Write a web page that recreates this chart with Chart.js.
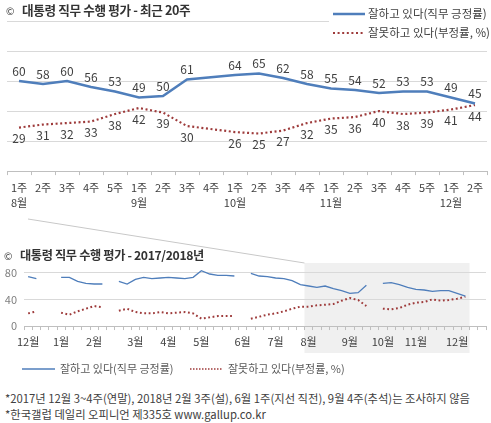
<!DOCTYPE html>
<html>
<head>
<meta charset="utf-8">
<script src="https://cdn.jsdelivr.net/npm/chart.js@4.4.1/dist/chart.umd.min.js"></script>
<style>
  body { margin: 0; background: #fff; width: 491px; height: 423px; overflow: hidden; position: relative;
         font-family: 'Noto Sans CJK KR', sans-serif; color: #404040; }
  canvas { position: absolute; left: 0; }
  #recent { top: 0; }
  #overview { top: 216px; }
  .title { position: absolute; font-weight: bold; line-height: 18px; letter-spacing: -0.35px;
           color: #333; white-space: nowrap; }
  .title span { font-weight: normal; font-size: 10px; margin-right: 8px; }
  .note { position: absolute; left: 5px; font-size: 11.3px; line-height: 16px; color: #404040; white-space: nowrap; }
</style>
</head>
<body>
<canvas id="recent" width="491" height="216"></canvas>
<canvas id="overview" width="491" height="162"></canvas>
<div class="title" style="left:6px;top:1px;font-size:12.6px"><span>©</span>대통령 직무 수행 평가 - 최근 20주</div>
<div class="title" style="left:4px;top:246px;font-size:12.2px"><span>©</span>대통령 직무 수행 평가 - 2017/2018년</div>
<div class="note" style="top:390px">*2017년 12월 3~4주(연말), 2018년 2월 3주(설), 6월 1주(지선 직전), 9월 4주(추석)는 조사하지 않음</div>
<div class="note" style="top:406px">*한국갤럽 데일리 오피니언 제335호 www.gallup.co.kr</div>
<script>
const seriesNames = ["잘하고 있다(직무 긍정률)", "잘못하고 있다(부정률, %)"];

// last 20 weeks: 2018 Aug wk1 .. Dec wk2
const recentWeeks = ["1주","2주","3주","4주","5주","1주","2주","3주","4주","1주","2주","3주","4주","1주","2주","3주","4주","5주","1주","2주"];
const recentMonths = ["8월","","","","","9월","","","","10월","","","","11월","","","","","12월",""];
const recentPositive = [60,58,60,56,53,49,50,61,null,64,65,62,58,55,54,52,53,53,49,45];
const recentNegative = [29,31,32,33,38,42,39,30,null,26,25,27,32,35,36,40,38,39,41,44];

// 2017 Dec wk1 .. 2018 Jul last week (before the shaded part)
const earlyPositive = [74,71,null,null,73,73,67,64,63,63,null,67,63,70,73,71,72,73,72,71,73,83,78,76,76,75,null,79,75,74,72,71,68,62];
const earlyNegative = [19,22,null,null,20,17,22,26,30,28,null,23,26,21,19,19,21,19,20,21,19,11,13,15,15,15,null,11,14,17,19,22,26,29];

const overviewMonths = ["12월","1월","2월","3월","4월","5월","6월","7월","8월","9월","10월","11월","12월"];
const overviewWeeksPerMonth = [4,4,5,4,4,5,4,4,5,4,4,5,4];
const overviewTicks = [0,20,40,60,80];

const blue = "#4f7ebb";
const red = "#9e3b3b";
const textColor = "#404040";
const fontFamily = "'Noto Sans CJK KR', sans-serif";

Chart.defaults.font.family = fontFamily;
Chart.defaults.animation = false;

const recentLabels = recentWeeks.map((w, i) => [w, recentMonths[i]]);
const overviewLabels = [];
overviewMonths.forEach((m, i) => {
  for (let k = 0; k < overviewWeeksPerMonth[i]; k++) overviewLabels.push(k === 0 ? m : "");
});
const tail = new Array(overviewLabels.length - earlyPositive.length - recentPositive.length).fill(null);
const overviewPositive = earlyPositive.concat(recentPositive, tail);
const overviewNegative = earlyNegative.concat(recentNegative, tail);

function drawSample(ctx, color, width, dash, x, y, len) {
  ctx.save();
  ctx.strokeStyle = color;
  ctx.lineWidth = width;
  ctx.setLineDash(dash);
  ctx.beginPath();
  ctx.moveTo(x, y);
  ctx.lineTo(x + len, y);
  ctx.stroke();
  ctx.restore();
}

const pointLabels = {
  id: "pointLabels",
  afterDatasetsDraw(chart) {
    const ctx = chart.ctx;
    ctx.save();
    ctx.font = "12px " + fontFamily;
    ctx.fillStyle = textColor;
    ctx.textAlign = "center";
    ctx.textBaseline = "middle";
    chart.data.datasets.forEach((ds, di) => {
      chart.getDatasetMeta(di).data.forEach((pt, i) => {
        if (ds.data[i] == null) return;
        ctx.fillText(ds.data[i], pt.x, pt.y + (di === 0 ? -10 : 11));
      });
    });
    ctx.restore();
  }
};

const recentLegend = {
  id: "recentLegend",
  afterDatasetsDraw(chart) {
    const ctx = chart.ctx;
    ctx.save();
    ctx.fillStyle = "#fff";
    ctx.fillRect(329, 0, 162, 44);
    ctx.font = "11.5px " + fontFamily;
    ctx.fillStyle = textColor;
    ctx.textBaseline = "middle";
    chart.data.datasets.forEach((ds, i) => {
      const y = 14 + i * 19;
      drawSample(ctx, ds.borderColor, ds.borderWidth, ds.borderDash || [], 333, y, 32);
      ctx.fillText(ds.label, 368, y);
    });
    ctx.restore();
  }
};

const shade = {
  id: "shade",
  beforeDraw(chart) {
    const { ctx, chartArea, scales: { x } } = chart;
    const half = (x.getPixelForValue(1) - x.getPixelForValue(0)) / 2;
    const left = x.getPixelForValue(earlyPositive.length) - half;
    const right = x.getPixelForValue(earlyPositive.length + recentPositive.length - 1) + half;
    const top = chartArea.top - 3;
    const bottom = chartArea.bottom + 27;
    ctx.save();
    ctx.fillStyle = "#f0f0f0";
    ctx.fillRect(left, top, right - left, bottom - top);
    ctx.strokeStyle = "#c8c8c8";
    ctx.lineWidth = 1;
    ctx.beginPath();
    ctx.moveTo(28, 3);
    ctx.lineTo(left, top);
    ctx.stroke();
    ctx.restore();
  }
};

const overviewLegend = {
  id: "overviewLegend",
  afterDraw(chart) {
    const ctx = chart.ctx;
    const y = 153;
    ctx.save();
    ctx.font = "11px " + fontFamily;
    ctx.fillStyle = "#595959";
    ctx.textBaseline = "middle";
    const [pos, neg] = chart.data.datasets;
    drawSample(ctx, pos.borderColor, 1.3, [], 22, y, 33);
    ctx.fillText(pos.label, 60, y);
    drawSample(ctx, neg.borderColor, 1.3, [1.5, 1.5], 190, y, 32);
    ctx.fillText(neg.label, 228, y);
    ctx.restore();
  }
};

new Chart(document.getElementById("recent"), {
  type: "line",
  data: {
    labels: recentLabels,
    datasets: [
      { label: seriesNames[0], data: recentPositive, borderColor: blue, borderWidth: 2.5, pointRadius: 0, spanGaps: true },
      { label: seriesNames[1], data: recentNegative, borderColor: red, borderWidth: 2.2, borderDash: [2, 2.6], pointRadius: 0, spanGaps: true }
    ]
  },
  options: {
    responsive: false,
    layout: { padding: { top: 21, left: 7, right: 4, bottom: 1 }, autoPadding: false },
    plugins: { legend: { display: false }, tooltip: { enabled: false } },
    scales: {
      x: {
        offset: true,
        grid: { offset: true, drawOnChartArea: false, tickLength: 4, color: "#bfbfbf" },
        border: { color: "#bfbfbf" },
        ticks: { autoSkip: false, maxRotation: 0, padding: 5, color: textColor, font: { size: 11, lineHeight: 1.36 } }
      },
      y: {
        min: 0, max: 100,
        ticks: { display: false, stepSize: 20 },
        grid: { color: "#d9d9d9", drawTicks: false },
        border: { display: false }
      }
    }
  },
  plugins: [pointLabels, recentLegend]
});

new Chart(document.getElementById("overview"), {
  type: "line",
  data: {
    labels: overviewLabels,
    datasets: [
      { label: seriesNames[0], data: overviewPositive, borderColor: blue, borderWidth: 1.3, pointRadius: 0, spanGaps: false },
      { label: seriesNames[1], data: overviewNegative, borderColor: red, borderWidth: 2, borderDash: [1.8, 2.6], pointRadius: 0, spanGaps: false }
    ]
  },
  options: {
    responsive: false,
    layout: { padding: { top: 50, left: 0, right: 5, bottom: 25 }, autoPadding: false },
    plugins: { legend: { display: false }, tooltip: { enabled: false } },
    scales: {
      x: {
        offset: true,
        grid: { offset: true, drawOnChartArea: false, tickLength: 4, color: "#bfbfbf" },
        border: { color: "#bfbfbf" },
        ticks: { autoSkip: false, maxRotation: 0, padding: 4, color: textColor, font: { size: 11, lineHeight: 1.36 } }
      },
      y: {
        min: 0, max: 90,
        afterBuildTicks: (axis) => { axis.ticks = overviewTicks.map(v => ({ value: v })); },
        afterFit: (axis) => { axis.width = 24; },
        ticks: { padding: 7, color: "#808080", font: { size: 11 } },
        grid: { color: "#d9d9d9", drawTicks: false },
        border: { display: false }
      }
    }
  },
  plugins: [shade, overviewLegend]
});
</script>
</body>
</html>
